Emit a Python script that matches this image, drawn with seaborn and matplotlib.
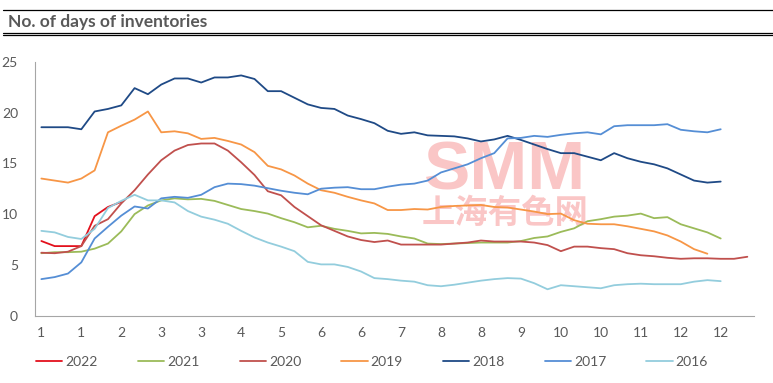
import seaborn as sns
import matplotlib.pyplot as plt
import pandas as pd
from matplotlib.lines import Line2D

# weekly days-of-inventory, one list per year (index = week of year)
y2022 = [7.35, 6.85, 6.85, 6.85, 9.8, 10.7, 11.2]
y2021 = [6.15, 6.25, 6.25, 6.3, 6.6, 7.1, 8.3, 10.0, 10.85,
         11.35, 11.55, 11.45, 11.5, 11.3, 10.9, 10.5, 10.3, 10.05,
         9.6, 9.2, 8.7, 8.85, 8.55, 8.35, 8.1, 8.15, 8.05,
         7.8, 7.6, 7.1, 7.05, 7.1, 7.15, 7.2, 7.2, 7.2,
         7.35, 7.65, 7.8, 8.25, 8.6, 9.3, 9.5, 9.75, 9.85,
         10.05, 9.6, 9.7, 9.0, 8.6, 8.2, 7.6]
y2020 = [6.2, 6.15, 6.3, 6.85, 8.85, 9.5, 11.05, 12.35, 13.9,
         15.3, 16.25, 16.8, 16.95, 16.95, 16.25, 15.1, 13.85, 12.25,
         11.85, 10.7, 9.8, 8.9, 8.35, 7.8, 7.45, 7.25, 7.4,
         7.0, 7.0, 7.0, 7.0, 7.1, 7.2, 7.4, 7.3, 7.3,
         7.3, 7.2, 6.95, 6.35, 6.8, 6.8, 6.65, 6.55, 6.15,
         5.95, 5.85, 5.7, 5.6, 5.65, 5.65, 5.6, 5.6, 5.8]
y2019 = [13.5, 13.3, 13.1, 13.5, 14.3, 18.05, 18.7, 19.3, 20.1,
         18.05, 18.15, 17.95, 17.4, 17.5, 17.2, 16.85, 16.1, 14.75,
         14.4, 13.8, 13.0, 12.35, 12.1, 11.7, 11.35, 11.05, 10.4,
         10.4, 10.5, 10.45, 10.7, 10.8, 10.85, 10.9, 10.7, 10.65,
         10.45, 10.25, 10.0, 10.05, 9.4, 9.05, 9.0, 9.0, 8.8,
         8.55, 8.3, 7.9, 7.3, 6.55, 6.1]
y2018 = [18.55, 18.55, 18.55, 18.35, 20.1, 20.35, 20.7, 22.4, 21.8,
         22.75, 23.35, 23.35, 22.95, 23.45, 23.45, 23.65, 23.3, 22.1,
         22.1, 21.45, 20.8, 20.45, 20.35, 19.7, 19.35, 18.95, 18.2,
         17.9, 18.05, 17.75, 17.7, 17.65, 17.45, 17.15, 17.35, 17.7,
         17.3, 16.85, 16.4, 16.0, 16.0, 15.65, 15.3, 16.0, 15.5,
         15.15, 14.9, 14.5, 13.9, 13.3, 13.1, 13.2]
y2017 = [3.6, 3.8, 4.15, 5.25, 7.6, 8.75, 9.85, 10.75, 10.55,
         11.55, 11.7, 11.6, 11.9, 12.65, 13.0, 12.95, 12.8, 12.55,
         12.3, 12.1, 11.95, 12.5, 12.6, 12.65, 12.45, 12.45, 12.7,
         12.9, 13.0, 13.3, 14.1, 14.5, 14.9, 15.5, 16.0, 17.45,
         17.5, 17.7, 17.6, 17.8, 17.95, 18.05, 17.85, 18.65, 18.75,
         18.75, 18.75, 18.85, 18.3, 18.15, 18.05, 18.35]
y2016 = [8.35, 8.2, 7.75, 7.55, 8.55, 10.6, 11.3, 11.9, 11.35,
         11.35, 11.15, 10.3, 9.75, 9.45, 9.05, 8.35, 7.7, 7.2,
         6.8, 6.35, 5.3, 5.05, 5.05, 4.8, 4.35, 3.7, 3.6,
         3.45, 3.35, 3.0, 2.9, 3.05, 3.25, 3.45, 3.6, 3.7,
         3.65, 3.2, 2.6, 3.0, 2.9, 2.8, 2.7, 3.0, 3.1,
         3.15, 3.1, 3.1, 3.1, 3.35, 3.5, 3.4]

years = ['2022', '2021', '2020', '2019', '2018', '2017', '2016']
series = [y2022, y2021, y2020, y2019, y2018, y2017, y2016]
colors = ['#E3101C', '#9BBB59', '#C0504D', '#F79646', '#1F4A86', '#558ED5', '#93CDDD']
month_labels = ['1', '1', '2', '3', '3', '4', '5', '6', '6', '7', '8', '8',
                '9', '10', '10', '11', '12', '12']
n_weeks = 54

frames = []
for yr, vals in zip(years, series):
    frames.append(pd.DataFrame({'week': range(len(vals)), 'days': vals, 'year': yr}))
df = pd.concat(frames, ignore_index=True)

sns.set_style('white')
plt.rcParams['font.family'] = ['Lato', 'DejaVu Sans']
gray = '#595959'

fig = plt.figure(figsize=(7.73, 3.83), dpi=100)
ax = fig.add_axes([34.7 / 773, 1 - 315.7 / 383, (754 - 34.7) / 773, 254 / 383])

sns.lineplot(data=df, x='week', y='days', hue='year', hue_order=years,
             palette=dict(zip(years, colors)), linewidth=1.3, ax=ax)

ax.set_xlim(-0.5, n_weeks - 0.5)
ax.set_ylim(0, 25)
ax.set_yticks(range(0, 26, 5))
ax.set_xticks(range(0, 3 * len(month_labels), 3))
ax.set_xticklabels(month_labels)
ax.set_xticks([i - 0.5 for i in range(n_weeks + 1)], minor=True)
ax.set_xlabel('')
ax.set_ylabel('')
ax.tick_params(axis='y', length=0, pad=12, labelsize=10, labelcolor=gray)
ax.tick_params(axis='x', which='major', length=0, pad=8, labelsize=10, labelcolor=gray)
ax.tick_params(axis='x', which='minor', direction='in', length=3, width=0.8, color='#A6A6A6')
for side in ['top', 'right']:
    ax.spines[side].set_visible(False)
for side in ['left', 'bottom']:
    ax.spines[side].set_color('#A6A6A6')
    ax.spines[side].set_linewidth(0.8)

sns.move_legend(ax, 'center', bbox_to_anchor=(372 / 773, 0.055),
                bbox_transform=fig.transFigure, ncol=7, frameon=False, title=None,
                handlelength=1.9, handletextpad=0.2, columnspacing=2.9, fontsize=10)
for t in ax.get_legend().get_texts():
    t.set_color(gray)

# watermark
ax.text(505 / 773, 1 - 190 / 383, 'SMM', transform=fig.transFigure, ha='center', va='baseline',
        fontsize=50, fontweight='bold', family='Liberation Sans', color='#FAC6C6', zorder=0.5)
ax.text(505 / 773, 1 - 223 / 383, '上海有色网', transform=fig.transFigure, ha='center', va='baseline',
        fontsize=24, fontweight='bold', family=['Noto Sans CJK SC', 'DejaVu Sans'],
        color='#FAC6C6', zorder=0.5)

# title with rules
fig.text(8 / 773, 1 - 22 / 383, 'No. of days of inventories', ha='left', va='center',
         fontsize=12.5, fontweight='bold', color=gray)
fig.add_artist(Line2D([3 / 773, 1], [1 - 10 / 383] * 2, color='black', linewidth=0.9))
fig.add_artist(Line2D([3 / 773, 1], [1 - 32.7 / 383] * 2, color='black', linewidth=0.9))
fig.add_artist(Line2D([3 / 773, 1], [1 - 34.9 / 383] * 2, color='black', linewidth=0.9))

fig.savefig('out.png', dpi=100)
